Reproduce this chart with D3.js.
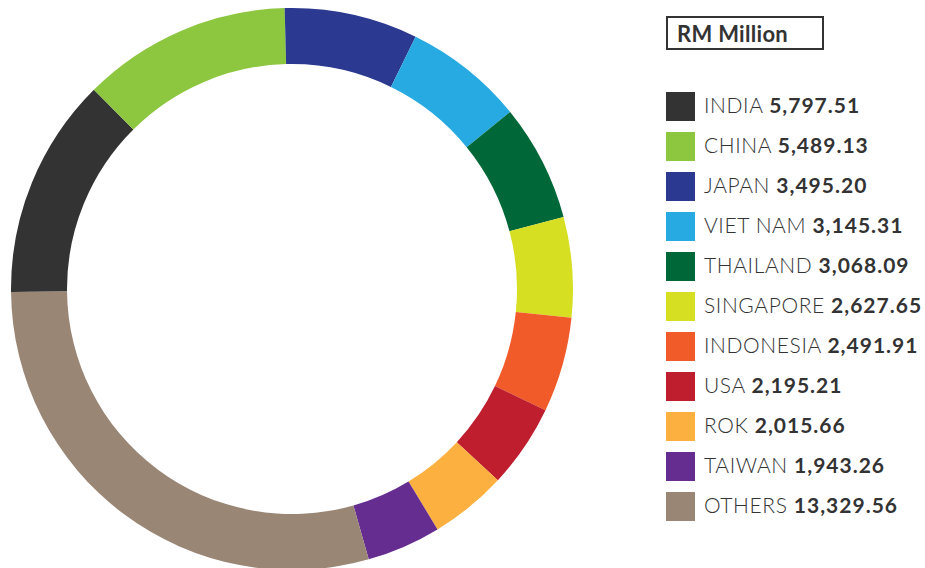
<!DOCTYPE html>
<html>
<head>
<meta charset="utf-8">
<script src="https://cdn.jsdelivr.net/npm/d3@7"></script>
<style>
  html, body { margin: 0; padding: 0; background: #fff; }
  svg { display: block; }
  text { font-family: Lato, "Open Sans", sans-serif; }
</style>
</head>
<body>
<svg id="chart" width="925" height="568"></svg>
<script>
const countries = ["INDIA", "CHINA", "JAPAN", "VIET NAM", "THAILAND", "SINGAPORE", "INDONESIA", "USA", "ROK", "TAIWAN", "OTHERS"];
const values = [5797.51, 5489.13, 3495.20, 3145.31, 3068.09, 2627.65, 2491.91, 2195.21, 2015.66, 1943.26, 13329.56];
const colors = ["#333333", "#8dc63f", "#2b3990", "#27aae1", "#006838", "#d7df23", "#f15a29", "#be1e2d", "#fbb040", "#662d91", "#998675"];
const unitTitle = "RM Million";

const svg = d3.select("#chart");
const cx = 292, cy = 289, rOuter = 281, rInner = 225;

const data = countries.map((c, i) => ({ name: c, value: values[i], color: colors[i] }));
const total = d3.sum(values);
// Japan begins just left of 12 o'clock; India and China precede it
const offset = -1.5 * Math.PI / 180;
const leadFrac = (values[0] + values[1]) / total;
const start = offset - leadFrac * 2 * Math.PI;

const pie = d3.pie().sort(null).value(d => d.value).startAngle(start).endAngle(start + 2 * Math.PI);
const arc = d3.arc().innerRadius(rInner).outerRadius(rOuter);

svg.append("g").attr("transform", `translate(${cx},${cy})`)
  .selectAll("path").data(pie(data)).join("path")
  .attr("d", arc).attr("fill", d => d.data.color);

// Title box
const tg = svg.append("g");
tg.append("rect").attr("x", 667).attr("y", 17).attr("width", 156).attr("height", 32)
  .attr("fill", "#fff").attr("stroke", "#333").attr("stroke-width", 2);
tg.append("text").attr("x", 677).attr("y", 42).attr("font-size", 22).attr("font-weight", 700)
  .attr("fill", "#333").attr("letter-spacing", 0.3).text(unitTitle);

// Legend
const fmt = d3.format(",.2f");
const lg = svg.append("g");
const row = lg.selectAll("g").data(data).join("g")
  .attr("transform", (d, i) => `translate(666,${92 + i * 40})`);
row.append("rect").attr("width", 29).attr("height", 29).attr("fill", d => d.color);
const t = row.append("text").attr("x", 38).attr("y", 21).attr("font-size", 21).attr("fill", "#333");
t.append("tspan").attr("font-weight", 300).attr("letter-spacing", 0.6).text(d => d.name + " ");
t.append("tspan").attr("font-weight", 700).attr("letter-spacing", 1).text(d => fmt(d.value));
</script>
</body>
</html>
